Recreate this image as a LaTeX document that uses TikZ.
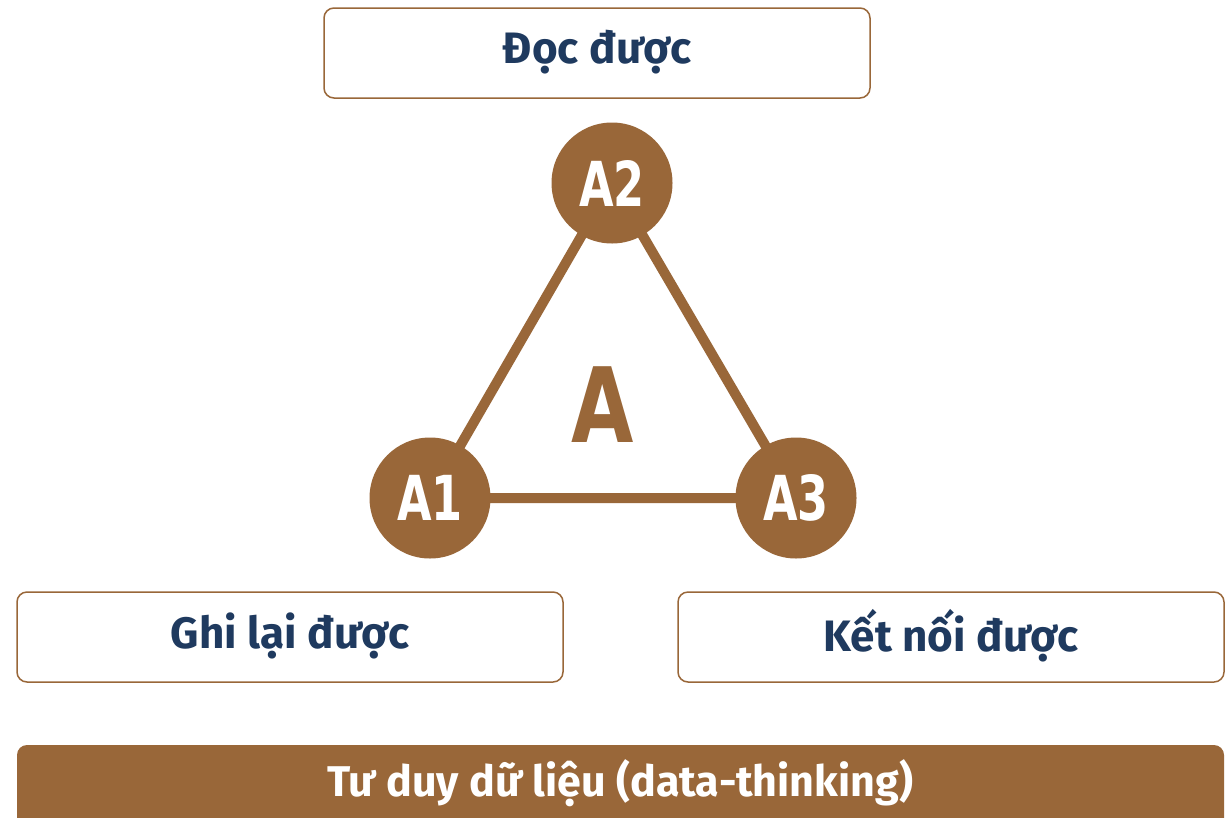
\documentclass[tikz,border=0pt]{standalone}
\usepackage{fontspec}
\setmainfont{Fira Sans}
\newfontfamily\condfont{DejaVu Sans Condensed}[FakeStretch=0.8]
\newfontfamily\bigfont{DejaVu Sans Condensed}[FakeStretch=0.86]
\definecolor{brn}{HTML}{996739}
\definecolor{navy}{HTML}{1F3A5F}
\tikzset{
  labelbox/.style={draw=brn, line width=1.5pt, rounded corners=10pt, fill=white},
  labeltext/.style={text=navy, font=\fontsize{44}{48}\selectfont\bfseries},
  vertex/.style={circle, fill=brn, minimum size=121pt, inner sep=0pt, text=white, font=\condfont\fontsize{62}{64}\selectfont\bfseries},
  edge/.style={draw=brn, line width=10pt}
}
\begin{document}
\begin{tikzpicture}[x=1pt,y=-1pt]
\useasboundingbox (0,0) rectangle (1230,817);
\clip (0,0) rectangle (1230,817);
\fill[white] (0,0) rectangle (1230,817);
% boxes
\draw[labelbox] (324,8) rectangle (870,98);
\node[labeltext] (doc) at (597,52) {Đọc được};
\draw[labelbox] (17,592) rectangle (563,682);
\node[labeltext] (ghi) at (290,636) {Ghi lại được};
\draw[labelbox] (678,592) rectangle (1224,682);
\node[labeltext] (ket) at (951,636) {Kết nối được};
% bottom bar
\fill[brn, rounded corners=10pt] (17,745) rectangle (1224,840);
\node[text=white, font=\fontsize{43}{46}\selectfont\bfseries] (bar) at (620,783) {Tư duy dữ liệu (data-thinking)};
% triangle
\coordinate (c2) at (612,183);
\coordinate (c1) at (430,498);
\coordinate (c3) at (796,498);
\draw[edge] (c1) -- (c2) -- (c3) -- cycle;
\node[vertex] (A2) at (c2) {A2};
\node[vertex] (A1) at (c1) {A1};
\node[vertex] (A3) at (c3) {A3};
\node[text=brn, font=\bigfont\fontsize{104}{110}\selectfont\bfseries] (A) at (603,405) {A};
\end{tikzpicture}
\end{document}
